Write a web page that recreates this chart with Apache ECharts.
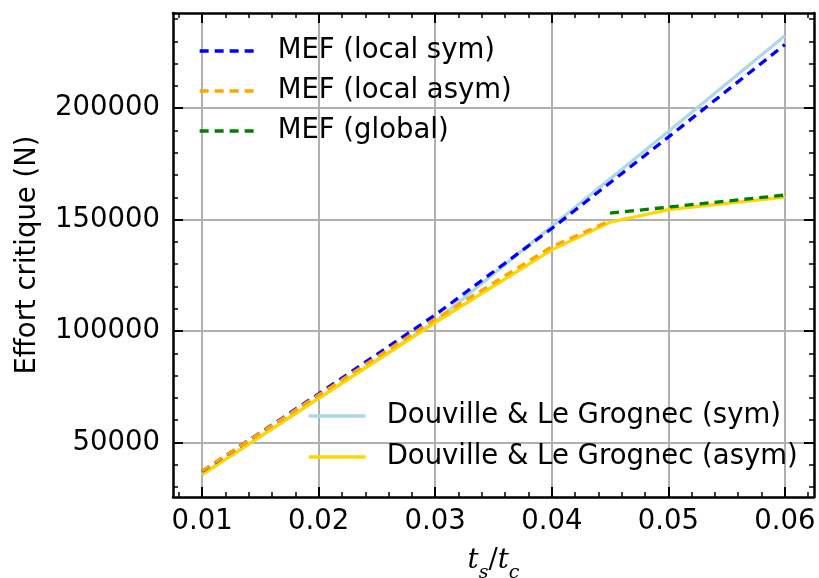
<!DOCTYPE html>
<html>
<head>
<meta charset="utf-8">
<script src="https://cdn.jsdelivr.net/npm/echarts@6/dist/echarts.min.js"></script>
<style>html,body{margin:0;padding:0;background:#fff}#c{width:819px;height:578px}</style>
</head>
<body>
<div id="c"></div>
<script>
// ---- data ----
const xMefSym = [0.01, 0.02, 0.03, 0.04, 0.05, 0.06];
const mefLocalSym = [37000, 71800, 107200, 146000, 187000, 228500];
const xMefAsym = [0.01, 0.02, 0.03, 0.04, 0.045];
const mefLocalAsym = [37200, 71300, 105300, 137800, 149500];
const xMefGlobal = [0.045, 0.05, 0.06];
const mefGlobal = [152900, 155600, 161000];
const xDouSym = [0.01, 0.02, 0.03, 0.04, 0.05, 0.06];
const douSym = [35500, 69800, 104300, 147000, 189500, 232500];
const xDouAsym = [0.01, 0.02, 0.03, 0.04, 0.045, 0.05, 0.06];
const douAsym = [35500, 69800, 103800, 136400, 148800, 154500, 160100];

const xTicks = [0.01, 0.02, 0.03, 0.04, 0.05, 0.06];
const yTicks = [50000, 100000, 150000, 200000];
const xMinorTicks = [];
for (let i = 4; i <= 31; i++) { if (i % 5 !== 0) xMinorTicks.push(+(i * 0.002).toFixed(3)); }
const yMinorTicks = [];
for (let v = 30000; v <= 240000; v += 10000) { if (v % 50000 !== 0) yMinorTicks.push(v); }

const seriesNames = ['MEF (local sym)', 'MEF (local asym)', 'MEF (global)',
  'Douville & Le Grognec (sym)', 'Douville & Le Grognec (asym)'];

const pairs = (xs, ys) => xs.map((x, i) => [x, ys[i]]);

const X_MIN = 0.0075, X_MAX = 0.0625, Y_MIN = 25500, Y_MAX = 242700;
const FONT = 'DejaVu Sans';
const FS = 27.5;
const LW = 3.3;

function xAxisDef(pos, vals, len, width, opts) {
  return Object.assign({
    type: 'value', position: pos, min: X_MIN, max: X_MAX, splitNumber: 5,
    axisLine: { show: false },
    axisTick: { show: true, inside: true, length: len, customValues: vals, lineStyle: { color: '#000', width: width } },
    axisLabel: { show: false },
    splitLine: { show: false }
  }, opts || {});
}
function yAxisDef(pos, vals, len, width, opts) {
  return Object.assign({
    type: 'value', position: pos, min: Y_MIN, max: Y_MAX, splitNumber: 5,
    axisLine: { show: false },
    axisTick: { show: true, inside: true, length: len, customValues: vals, lineStyle: { color: '#000', width: width } },
    axisLabel: { show: false },
    splitLine: { show: false }
  }, opts || {});
}

const chart = echarts.init(document.getElementById('c'), null, { renderer: 'canvas' });
chart.setOption({
  animation: false,
  backgroundColor: '#ffffff',
  grid: { left: 173, right: 5, top: 13, bottom: 81, containLabel: false, outerBoundsMode: 'none' },
  xAxis: [
    xAxisDef('bottom', xTicks, 10, 2, {
      axisLine: { show: true, onZero: false, lineStyle: { color: '#000', width: 2.5 } },
      axisLabel: { show: true, customValues: xTicks, margin: 11, color: '#000', fontFamily: FONT, fontSize: FS,
        formatter: v => v.toFixed(2) },
      splitLine: { show: true, lineStyle: { color: '#b0b0b0', width: 2 } },
      name: '{i|t}{s|s}{n|/}{i|t}{s|c}',
      nameLocation: 'middle', nameGap: 50,
      nameTextStyle: {
        rich: {
          i: { fontFamily: 'DejaVu Serif', fontStyle: 'italic', fontSize: FS, lineHeight: 36, verticalAlign: 'top', color: '#000' },
          n: { fontFamily: 'DejaVu Serif', fontSize: FS, lineHeight: 36, verticalAlign: 'top', color: '#000' },
          s: { fontFamily: 'DejaVu Serif', fontStyle: 'italic', fontSize: 19, lineHeight: 19, verticalAlign: 'bottom', color: '#000' }
        }
      }
    }),
    xAxisDef('top', xTicks, 10, 2, { axisLine: { show: true, onZero: false, lineStyle: { color: '#000', width: 2.5 } } }),
    xAxisDef('bottom', xMinorTicks, 5, 1.5),
    xAxisDef('top', xMinorTicks, 5, 1.5)
  ],
  yAxis: [
    yAxisDef('left', yTicks, 10, 2, {
      axisLine: { show: true, onZero: false, lineStyle: { color: '#000', width: 2.5 } },
      axisLabel: { show: true, customValues: yTicks, margin: 13, color: '#000', fontFamily: FONT, fontSize: FS,
        formatter: v => String(Math.round(v)) },
      splitLine: { show: true, lineStyle: { color: '#b0b0b0', width: 2 } },
      name: 'Effort critique (N)', nameLocation: 'middle', nameGap: 131,
      nameTextStyle: { fontFamily: FONT, fontSize: FS, color: '#000' }
    }),
    yAxisDef('right', yTicks, 10, 2, { axisLine: { show: true, onZero: false, lineStyle: { color: '#000', width: 2.5 } } }),
    yAxisDef('left', yMinorTicks, 5, 1.5),
    yAxisDef('right', yMinorTicks, 5, 1.5)
  ],
  legend: [
    {
      data: seriesNames.slice(0, 3), orient: 'vertical', left: 198, top: 36, padding: 0,
      itemWidth: 55, itemHeight: 14, itemGap: 10,
      itemStyle: { opacity: 0 }, lineStyle: { width: LW },
      textStyle: { fontFamily: FONT, fontSize: FS, color: '#000', lineHeight: 30, padding: [0, 0, 0, 18] },
      selectedMode: false
    },
    {
      data: seriesNames.slice(3), orient: 'vertical', left: 307, top: 401, padding: 0,
      itemWidth: 57, itemHeight: 14, itemGap: 11,
      itemStyle: { opacity: 0 }, lineStyle: { width: LW },
      textStyle: { fontFamily: FONT, fontSize: FS, color: '#000', lineHeight: 30, padding: [0, 0, 0, 16] },
      selectedMode: false
    }
  ],
  series: [
    { name: seriesNames[3], type: 'line', data: pairs(xDouSym, douSym), symbol: 'none', color: '#add8e6',
      lineStyle: { color: '#add8e6', width: LW }, z: 2 },
    { name: seriesNames[4], type: 'line', data: pairs(xDouAsym, douAsym), symbol: 'none', color: '#ffd700',
      lineStyle: { color: '#ffd700', width: LW }, z: 3 },
    { name: seriesNames[0], type: 'line', data: pairs(xMefSym, mefLocalSym), symbol: 'none', color: '#0000ff',
      lineStyle: { color: '#0000ff', width: LW, type: [9, 6] }, z: 4 },
    { name: seriesNames[1], type: 'line', data: pairs(xMefAsym, mefLocalAsym), symbol: 'none', color: '#ffa500',
      lineStyle: { color: '#ffa500', width: LW, type: [9, 6] }, z: 4 },
    { name: seriesNames[2], type: 'line', data: pairs(xMefGlobal, mefGlobal), symbol: 'none', color: '#008000',
      lineStyle: { color: '#008000', width: LW, type: [9, 6] }, z: 4 }
  ]
});
</script>
</body>
</html>
